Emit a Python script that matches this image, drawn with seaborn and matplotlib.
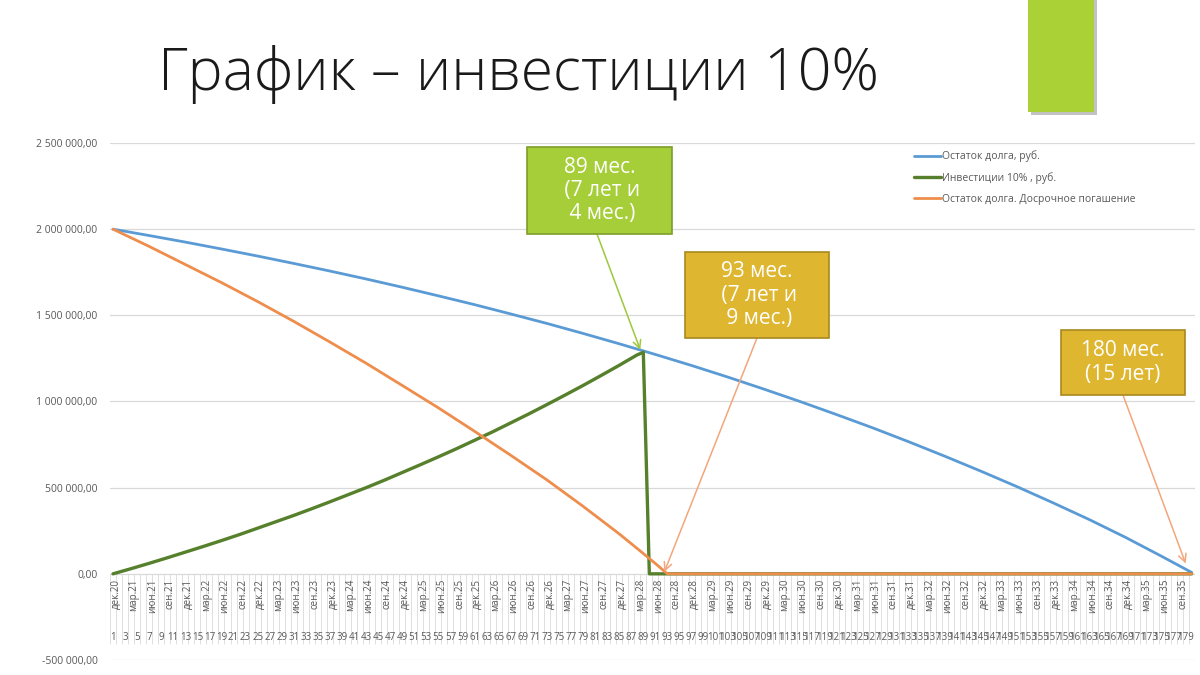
import numpy as np
import pandas as pd
import matplotlib
matplotlib.use("Agg")
import matplotlib.pyplot as plt
import seaborn as sns
from matplotlib.patches import Rectangle

# ---------------- data ----------------
months = list(range(1, 181))  # category positions 1..180

month_labels = [
    "дек.20",
    "мар.21", "июн.21", "сен.21", "дек.21",
    "мар.22", "июн.22", "сен.22", "дек.22",
    "мар.23", "июн.23", "сен.23", "дек.23",
    "мар.24", "июн.24", "сен.24", "дек.24",
    "мар.25", "июн.25", "сен.25", "дек.25",
    "мар.26", "июн.26", "сен.26", "дек.26",
    "мар.27", "июн.27", "сен.27", "дек.27",
    "мар.28", "июн.28", "сен.28", "дек.28",
    "мар.29", "июн.29", "сен.29", "дек.29",
    "мар.30", "июн.30", "сен.30", "дек.30",
    "мар.31", "июн.31", "сен.31", "дек.31",
    "мар.32", "июн.32", "сен.32", "дек.32",
    "мар.33", "июн.33", "сен.33", "дек.33",
    "мар.34", "июн.34", "сен.34", "дек.34",
    "мар.35", "июн.35", "сен.35",
]

# Остаток долга, руб.
debt_months = [1, 7, 13, 19, 25, 31, 37, 43, 49, 55, 61, 67, 73, 79, 85, 91,
               97, 103, 109, 115, 121, 127, 133, 139, 145, 151, 157, 163, 169, 175, 180]
debt_values = [2000000, 1963000, 1925000, 1885000, 1844000, 1801000, 1757000, 1711000,
               1663000, 1613000, 1562000, 1508000, 1453000, 1395000, 1335000, 1273000,
               1209000, 1142000, 1072000, 1000000, 925000, 848000, 767000, 683000,
               596000, 506000, 412000, 315000, 212000, 102000, 8000]

# Инвестиции 10% , руб.
inv_months = [1, 4, 7, 10, 13, 16, 19, 22, 25, 28, 31, 34, 37, 40, 43, 46, 49, 52, 55,
              58, 61, 64, 67, 70, 73, 76, 79, 82, 85, 88, 89, 90, 180]
inv_values = [0, 30000, 61000, 93000, 126000, 159000, 193000, 228000, 265000, 302000,
              339000, 378000, 418000, 459000, 500000, 543000, 588000, 633000, 679000,
              726000, 775000, 824000, 876000, 928000, 982000, 1037000, 1093000, 1151000,
              1210000, 1271000, 1285000, 0, 0]

# Остаток долга. Досрочное погашение
early_months = [1, 7, 13, 19, 25, 31, 37, 43, 49, 55, 61, 67, 73, 79, 85, 89, 91, 93, 180]
early_values = [2000000, 1900000, 1795000, 1690000, 1580000, 1465000, 1345000, 1222000,
                1093000, 963000, 827000, 688000, 545000, 392000, 232000, 118000, 60000, 0, 0]

series_names = ["Остаток долга, руб.", "Инвестиции 10% , руб.",
                "Остаток долга. Досрочное погашение"]
series_colors = ["#5B9BD5", "#56802C", "#EE8D4C"]

y_ticks = [-500000, 0, 500000, 1000000, 1500000, 2000000, 2500000]

# ---------------- figure ----------------
sns.set_theme(style="white")
plt.rcParams['font.family'] = ['Open Sans', 'DejaVu Sans']

W, H = 1200, 675
fig = plt.figure(figsize=(12, 6.75), dpi=100)
fig.patch.set_facecolor("white")


def fx(px):
    return px / W


def fy(py):
    return 1 - py / H


ax = fig.add_axes([fx(110), fy(660), (1194.7 - 110) / W, (660 - 143) / H])

df_debt = pd.DataFrame({"month": debt_months, "value": debt_values})
df_inv = pd.DataFrame({"month": inv_months, "value": inv_values})
df_early = pd.DataFrame({"month": early_months, "value": early_values})

sns.lineplot(data=df_debt, x="month", y="value", ax=ax, color=series_colors[0],
             lw=2.0, label=series_names[0], zorder=3)
sns.lineplot(data=df_inv, x="month", y="value", ax=ax, color=series_colors[1],
             lw=2.4, label=series_names[1], zorder=4)
sns.lineplot(data=df_early, x="month", y="value", ax=ax, color=series_colors[2],
             lw=2.0, label=series_names[2], zorder=5)

ax.set_xlim(0.5, 180.5)
ax.set_ylim(-500000, 2500000)
ax.set_yticks(y_ticks)
ax.set_yticklabels([f"{v:,.2f}".replace(",", " ").replace(".", ",") for v in y_ticks])
ax.tick_params(axis="y", length=0, pad=9, labelsize=7.5, labelcolor="#595959")
ax.set_xticks([])
ax.grid(axis="y", color="#D9D9D9", lw=0.9)
ax.grid(axis="x", visible=False)
ax.set_axisbelow(True)
for s in ax.spines.values():
    s.set_visible(False)
ax.set_xlabel("")
ax.set_ylabel("")

# category separators
ax.vlines(np.arange(0.5, 181, 1), -410000, 0, color="#DADADA", lw=0.6, zorder=0.5)

# month labels (rotated)
for i, lab in enumerate(month_labels):
    ax.text(1 + 3 * i + 0.5, -28000, lab, rotation=90, ha="center", va="top",
            fontsize=7, color="#595959")

# number labels
for m in months[::2]:
    ax.text(m, -372000, str(m), ha="center", va="center", fontsize=7, color="#595959")

# legend
leg = ax.legend(loc="upper left", bbox_to_anchor=(fx(905), fy(141)),
                bbox_transform=fig.transFigure, frameon=False, fontsize=7.5,
                handlelength=2.6, labelspacing=0.95, handletextpad=0.1)
for t in leg.get_texts():
    t.set_color("#595959")

# title
fig.text(fx(158), fy(74), "График – инвестиции 10%", fontsize=42.5, ha="left",
         va="center", color="#1A1A1A", fontweight="light")

# decorative green block
fig.add_artist(Rectangle((fx(1031), fy(115)), 66 / W, 115 / H, transform=fig.transFigure,
                         facecolor="#9A9A9A", edgecolor="none", alpha=0.6, zorder=1))
fig.add_artist(Rectangle((fx(1028), fy(112)), 66 / W, 112 / H, transform=fig.transFigure,
                         facecolor="#AAD236", edgecolor="none", zorder=2))


def callout(x0, y0, x1, y1, fill, edge, text):
    fig.add_artist(Rectangle((fx(x0), fy(y1)), (x1 - x0) / W, (y1 - y0) / H,
                             transform=fig.transFigure, facecolor=fill, edgecolor=edge,
                             lw=1.2, zorder=10))
    fig.text(fx((x0 + x1) / 2), fy((y0 + y1) / 2), text, ha="center", va="center",
             fontsize=15, color="white", linespacing=1.15, zorder=11)


callout(527, 147, 672, 234, "#A6CE39", "#7E9C2C", "89 мес.\n (7 лет и\n 4 мес.)")
callout(685, 252, 829, 338, "#DFB630", "#A8891F", "93 мес.\n (7 лет и\n 9 мес.)")
callout(1061, 330, 1185, 395, "#DFB630", "#A8891F", "180 мес.\n(15 лет)")

arrow_green = dict(arrowstyle="->", color="#9DC83A", lw=1.1, shrinkA=0, shrinkB=0,
                   mutation_scale=14)
arrow_orange = dict(arrowstyle="->", color="#F3A67C", lw=1.1, shrinkA=0, shrinkB=0,
                    mutation_scale=14)
ax.annotate("", xy=(88.5, 1300000), xycoords="data",
            xytext=(fx(597), fy(234)), textcoords="figure fraction",
            arrowprops=arrow_green, zorder=9)
ax.annotate("", xy=(92.5, 12000), xycoords="data",
            xytext=(fx(757), fy(338)), textcoords="figure fraction",
            arrowprops=arrow_orange, zorder=9)
ax.annotate("", xy=(179.0, 60000), xycoords="data",
            xytext=(fx(1123), fy(395)), textcoords="figure fraction",
            arrowprops=arrow_orange, zorder=9)

fig.savefig("out.png", dpi=100)
